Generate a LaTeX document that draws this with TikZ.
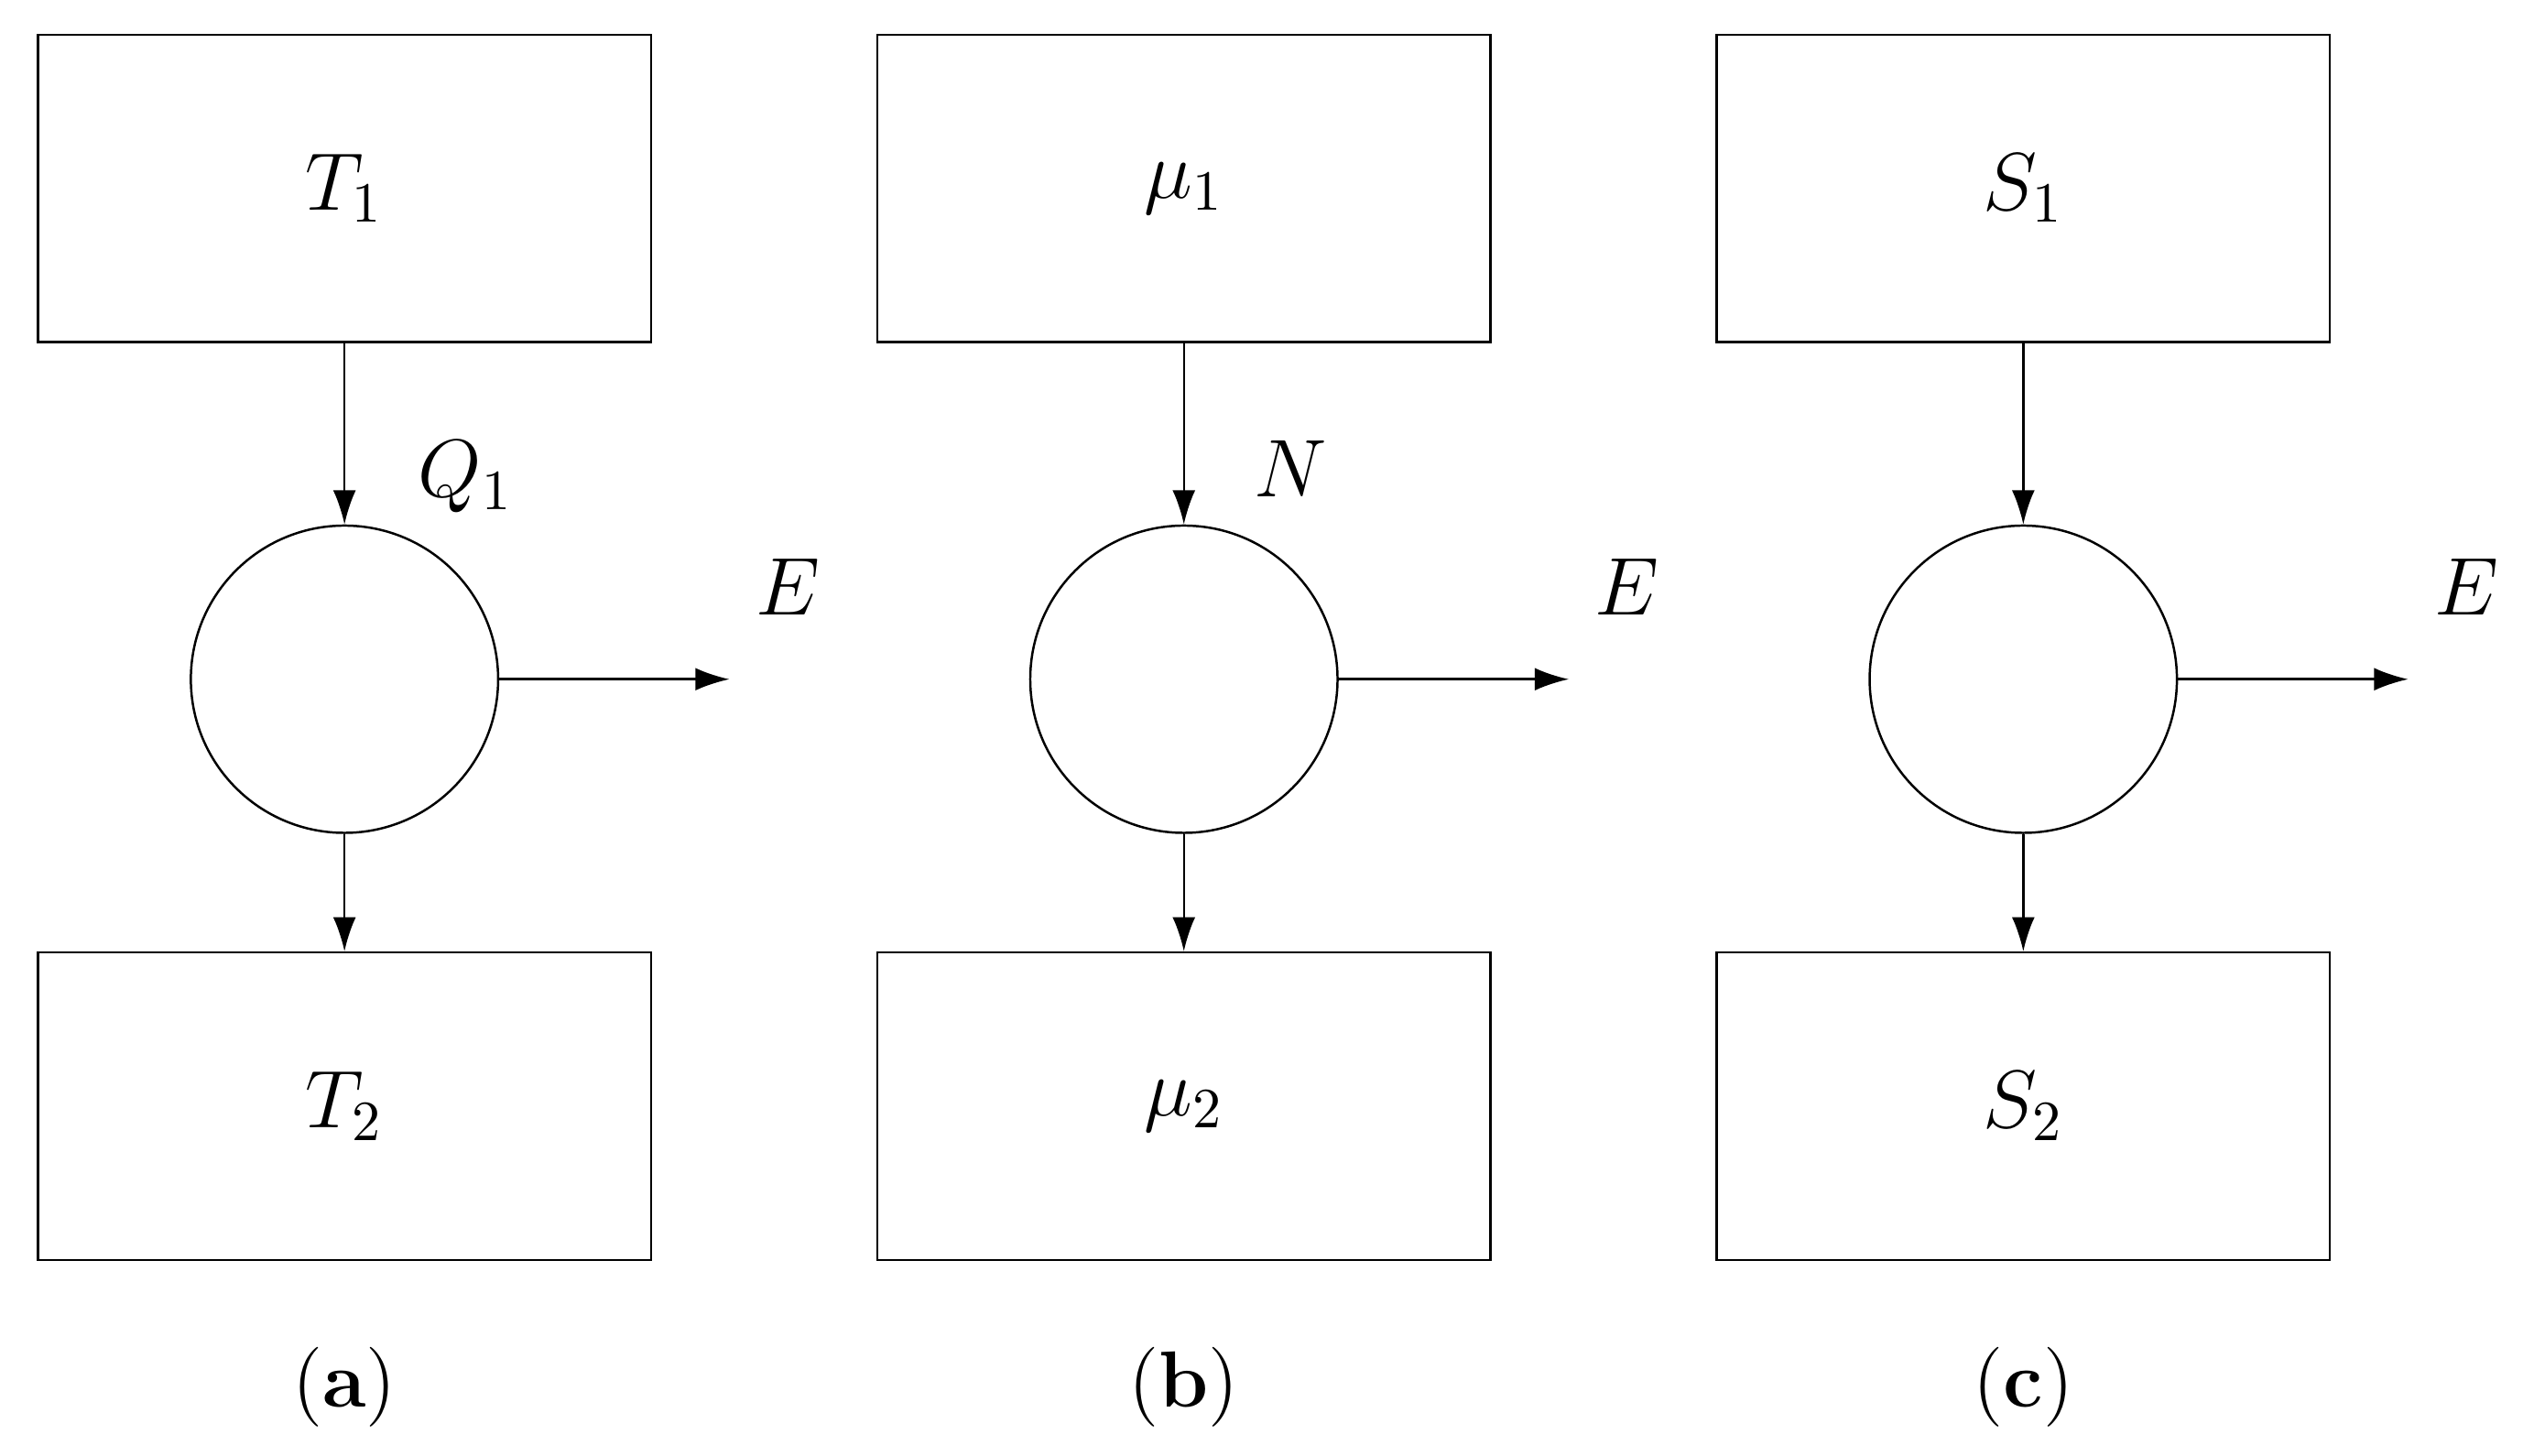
\documentclass[tikz,border=0pt]{standalone}
\usetikzlibrary{positioning,arrows.meta}
\def \boxW{3.79}
\def \boxH{1.9}
\def \circR{0.95}
\tikzset{
  blk/.style = {draw, minimum width=\boxW cm, minimum height=\boxH cm, inner sep=0pt},
  proc/.style = {draw, circle, minimum size=2*\circR cm, inner sep=0pt},
  flow/.style = {-{Latex[length=6pt,width=4pt]}},
  lbl/.style = {font=\fontsize{14}{17}\selectfont}
}
\begin{document}
\begin{tikzpicture}
\useasboundingbox (0,0) rectangle (15.6,9);
% ---- three panels
\foreach \cx/\nm/\top/\bot/\tag in {2.13/a/T_1/T_2/a, 7.32/b/\mu_1/\mu_2/b, 12.51/c/S_1/S_2/c}{
  \node[blk, lbl] (\nm top) at (\cx, 7.835) {$\top$};
  \node[proc] (\nm proc) at (\cx, 4.8) {};
  \node[blk, lbl] (\nm bot) at (\cx, 2.16) {$\bot$};
  \coordinate (\nm out) at (\cx + 2.38, 4.8);
  \node[lbl] (\nm E) at (\cx + 2.74, 5.37) {$E$};
  \node[lbl] (\nm cap) at (\cx, 0.42) {(\textbf{\tag})};
  \draw[flow] (\nm top) -- (\nm proc);
  \draw[flow] (\nm proc) -- (\nm bot);
  \draw[flow] (\nm proc) -- (\nm out);
}
% ---- flux labels
\node[lbl] (q) at (2.88, 6.05) {$Q_1$};
\node[lbl] (n) at (7.98, 6.1) {$N$};
\end{tikzpicture}
\end{document}
